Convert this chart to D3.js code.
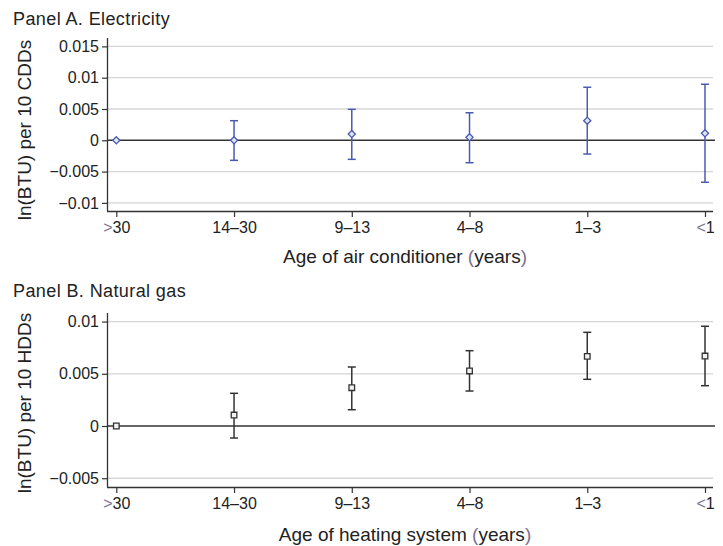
<!DOCTYPE html>
<html lang="en">
<head>
<meta charset="UTF-8">
<title>Age of equipment and weather response</title>
<script src="https://d3js.org/d3.v7.min.js"></script>
<style>
    body { margin: 0; background: #fff; }
    svg { display: block; font-family: Arial, "Liberation Sans", Helvetica, sans-serif; }
    .grid line { stroke: #d6d6d6; stroke-width: 1.3px; }
    .tick text { fill: #222; }
    .sym { fill: #7a7190; }
</style>
</head>
<body>
<svg width="723" height="546"></svg>

<script>
    // age groups (x axis categories)
    const ages = [">30", "14\u201330", "9\u201313", "4\u20138", "1\u20133", "<1"];

    // Panel A, electricity: point estimate and 95% CI bounds
    const elecEst   = [0, 0.0000, 0.0010, 0.00048, 0.00313, 0.00112];
    const elecLow   = [null, -0.0032, -0.00304, -0.00358, -0.00219, -0.0067];
    const elecHigh  = [null, 0.00313, 0.00495, 0.0044, 0.00847, 0.00895];
    const elecTicks = [0.015, 0.01, 0.005, 0, -0.005, -0.01];
    const elecTickLabels = ["0.015", "0.01", "0.005", "0", "\u22120.005", "\u22120.01"];

    // Panel B, natural gas
    const gasEst   = [0, 0.00105, 0.00367, 0.00527, 0.00667, 0.0067];
    const gasLow   = [null, -0.00115, 0.00156, 0.00335, 0.00447, 0.00386];
    const gasHigh  = [null, 0.00313, 0.00565, 0.00721, 0.00897, 0.00955];
    const gasTicks = [0.01, 0.005, 0, -0.005];
    const gasTickLabels = ["0.01", "0.005", "0", "\u22120.005"];

    const svg = d3.select("svg");

    const left = 108, right = 713;
    const x = d3.scalePoint()
        .domain(ages)
        .range([116.3, 705])
        .padding(0);

    function panel(opt) {
        const g = svg.append("g");
        const y = d3.scaleLinear().domain(opt.domain).range([opt.bottom, opt.top]);

        // title
        g.append("text")
            .attr("x", 13).attr("y", opt.titleY)
            .attr("font-size", "18px").attr("fill", "#222")
            .style("letter-spacing", "0.4px")
            .text(opt.title);

        // grid lines
        g.append("g").attr("class", "grid")
            .selectAll("line")
            .data(opt.ticks.filter(d => d !== 0))
            .enter().append("line")
            .attr("x1", left).attr("x2", right)
            .attr("y1", d => y(d)).attr("y2", d => y(d));

        // zero line
        g.append("line")
            .attr("x1", left).attr("x2", right + 2)
            .attr("y1", y(0)).attr("y2", y(0))
            .attr("stroke", "#333").attr("stroke-width", 1.4);

        // y axis
        const yAxis = d3.axisLeft(y)
            .tickValues(opt.ticks)
            .tickFormat((d, i) => opt.tickLabels[i])
            .tickSize(6).tickPadding(3);
        const ga = g.append("g").attr("transform", `translate(${left},0)`).call(yAxis);
        ga.select(".domain").attr("stroke", "#333").attr("stroke-width", 1.3)
            .attr("d", `M-0.5,${opt.top}V${opt.bottom}`);
        ga.selectAll(".tick line").attr("stroke", "#333").attr("stroke-width", 1.2);
        ga.selectAll(".tick text").attr("font-size", "16px").attr("font-family", "inherit");

        // x axis
        const xAxis = d3.axisBottom(x).tickSize(6).tickPadding(5);
        const gx = g.append("g").attr("transform", `translate(0,${opt.bottom})`).call(xAxis);
        gx.select(".domain").attr("stroke", "#333").attr("stroke-width", 1.3)
            .attr("d", `M${left - 1},0.5H${right}`);
        gx.selectAll(".tick line").attr("stroke", "#333").attr("stroke-width", 1.2);
        gx.selectAll(".tick text").attr("font-size", "16px").attr("font-family", "inherit")
            .each(function (d) {
                const t = d3.select(this);
                if (d[0] === ">" || d[0] === "<") {
                    t.text(null);
                    t.append("tspan").attr("class", "sym").text(d[0]);
                    t.append("tspan").text(d.slice(1));
                }
            });

        // y axis title
        g.append("text")
            .attr("transform", `translate(${opt.yTitleX},${opt.yTitleY}) rotate(-90)`)
            .attr("text-anchor", "middle")
            .attr("font-size", "19px").attr("fill", "#222")
            .text(opt.yTitle);

        // x axis title
        const xt = g.append("text")
            .attr("x", 405).attr("y", opt.xTitleY)
            .attr("text-anchor", "middle")
            .attr("font-size", "19px").attr("fill", "#222");
        xt.append("tspan").text(opt.xTitle + " ");
        xt.append("tspan").attr("class", "sym").text("(");
        xt.append("tspan").text("years");
        xt.append("tspan").attr("class", "sym").text(")");

        // error bars
        const rows = ages.map((a, i) => ({ a, est: opt.est[i], lo: opt.low[i], hi: opt.high[i] }));
        const ci = rows.filter(d => d.lo !== null);
        const eb = g.append("g").attr("stroke", opt.color).attr("stroke-width", 1.5).attr("fill", "none");
        eb.selectAll(".v").data(ci).enter().append("line")
            .attr("x1", d => x(d.a)).attr("x2", d => x(d.a))
            .attr("y1", d => y(d.lo)).attr("y2", d => y(d.hi));
        eb.selectAll(".cl").data(ci).enter().append("line")
            .attr("x1", d => x(d.a) - 4).attr("x2", d => x(d.a) + 4)
            .attr("y1", d => y(d.lo)).attr("y2", d => y(d.lo));
        eb.selectAll(".ch").data(ci).enter().append("line")
            .attr("x1", d => x(d.a) - 4).attr("x2", d => x(d.a) + 4)
            .attr("y1", d => y(d.hi)).attr("y2", d => y(d.hi));

        // markers
        g.append("g").selectAll("path").data(rows).enter().append("path")
            .attr("transform", d => `translate(${x(d.a)},${y(d.est)})`)
            .attr("d", opt.marker)
            .attr("fill", opt.markerFill)
            .attr("stroke", opt.color)
            .attr("stroke-width", 1.3);
    }

    panel({
        title: "Panel A. Electricity", titleY: 25,
        top: 38, bottom: 211, domain: [-0.01129, 0.01634],
        ticks: elecTicks, tickLabels: elecTickLabels,
        est: elecEst, low: elecLow, high: elecHigh,
        color: "#4a5bb0", markerFill: "#dfe3f5",
        marker: "M0,-3.6L3.6,0L0,3.6L-3.6,0Z",
        yTitle: "ln(BTU) per 10 CDDs", yTitleX: 31, yTitleY: 130,
        xTitle: "Age of air conditioner", xTitleY: 263
    });

    panel({
        title: "Panel B. Natural gas", titleY: 297,
        top: 313, bottom: 487, domain: [-0.00584, 0.01082],
        ticks: gasTicks, tickLabels: gasTickLabels,
        est: gasEst, low: gasLow, high: gasHigh,
        color: "#333333", markerFill: "#f2f2f2",
        marker: "M-2.8,-2.8H2.8V2.8H-2.8Z",
        yTitle: "ln(BTU) per 10 HDDs", yTitleX: 31, yTitleY: 403,
        xTitle: "Age of heating system", xTitleY: 541
    });
</script>
</body>
</html>
